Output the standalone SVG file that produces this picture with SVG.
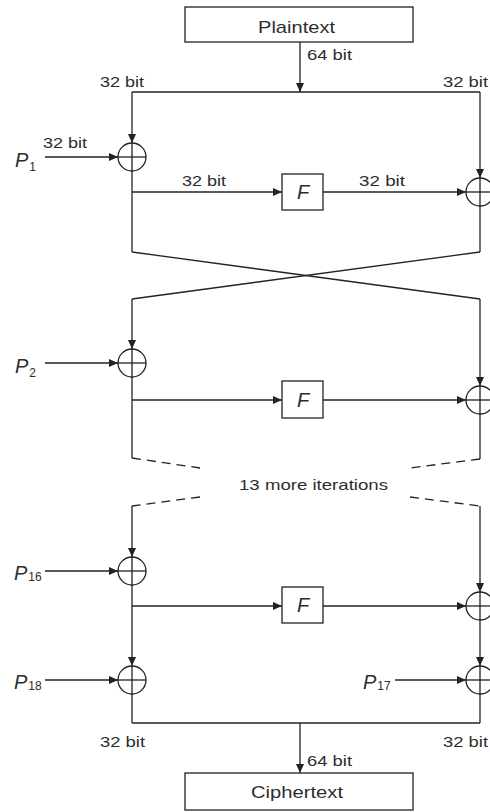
<svg xmlns="http://www.w3.org/2000/svg" width="490" height="812" viewBox="0 0 490 812">
<style>
.ln{stroke:#222;stroke-width:1.3;fill:none}
.dash{stroke:#222;stroke-width:1.3;fill:none;stroke-dasharray:9 6}
.box{fill:#fff;stroke:#222;stroke-width:1.3}
.xor{fill:none;stroke:#222;stroke-width:1.3}
.t{font-family:"Liberation Sans",Arial,sans-serif;fill:#2d2d2d}
.lbl{font-size:15px}
.big{font-size:17px}
.pl{font-size:20px;font-style:italic}
.sub{font-size:12px;font-style:normal}
.f{font-size:20px;font-style:italic;text-anchor:middle}
</style>
<defs>
<marker id="ah" markerUnits="userSpaceOnUse" markerWidth="9" markerHeight="8" refX="9" refY="4" orient="auto">
<path d="M0,0 L9,4 L0,8 z" fill="#222"/>
</marker>
<g id="xorsym">
<circle class="xor" cx="0" cy="0" r="14"/>
<line class="ln" x1="-14" y1="0" x2="14" y2="0"/>
<line class="ln" x1="0" y1="-14" x2="0" y2="14"/>
</g>
</defs>

<g id="connectors">
<line class="ln" x1="300" y1="42" x2="300" y2="92" marker-end="url(#ah)"/>
<line class="ln" x1="132" y1="92" x2="480" y2="92"/>
<line class="ln" x1="132" y1="92" x2="132" y2="143" marker-end="url(#ah)"/>
<line class="ln" x1="480" y1="92" x2="480" y2="178" marker-end="url(#ah)"/>
<line class="ln" x1="45" y1="157" x2="118" y2="157" marker-end="url(#ah)"/>
<line class="ln" x1="132" y1="171" x2="132" y2="252"/>
<line class="ln" x1="132" y1="192" x2="282" y2="192" marker-end="url(#ah)"/>
<line class="ln" x1="323" y1="192" x2="466" y2="192" marker-end="url(#ah)"/>
<line class="ln" x1="480" y1="206" x2="480" y2="252"/>
<line class="ln" x1="132" y1="252" x2="480" y2="299"/>
<line class="ln" x1="480" y1="252" x2="132" y2="299"/>
<line class="ln" x1="132" y1="299" x2="132" y2="349" marker-end="url(#ah)"/>
<line class="ln" x1="480" y1="299" x2="480" y2="386" marker-end="url(#ah)"/>
<line class="ln" x1="45" y1="363" x2="118" y2="363" marker-end="url(#ah)"/>
<line class="ln" x1="132" y1="377" x2="132" y2="458"/>
<line class="ln" x1="132" y1="400" x2="282" y2="400" marker-end="url(#ah)"/>
<line class="ln" x1="323" y1="400" x2="466" y2="400" marker-end="url(#ah)"/>
<line class="ln" x1="480" y1="414" x2="480" y2="459"/>
<line class="dash" x1="132" y1="458" x2="200" y2="468"/>
<line class="dash" x1="480" y1="459" x2="410" y2="468"/>
<line class="dash" x1="200" y1="497" x2="132" y2="506"/>
<line class="dash" x1="410" y1="497" x2="480" y2="506"/>
<line class="ln" x1="132" y1="506" x2="132" y2="557" marker-end="url(#ah)"/>
<line class="ln" x1="480" y1="506" x2="480" y2="592" marker-end="url(#ah)"/>
<line class="ln" x1="45" y1="571" x2="118" y2="571" marker-end="url(#ah)"/>
<line class="ln" x1="132" y1="585" x2="132" y2="666" marker-end="url(#ah)"/>
<line class="ln" x1="132" y1="606" x2="282" y2="606" marker-end="url(#ah)"/>
<line class="ln" x1="323" y1="606" x2="466" y2="606" marker-end="url(#ah)"/>
<line class="ln" x1="480" y1="620" x2="480" y2="666" marker-end="url(#ah)"/>
<line class="ln" x1="45" y1="680" x2="118" y2="680" marker-end="url(#ah)"/>
<line class="ln" x1="395" y1="680" x2="466" y2="680" marker-end="url(#ah)"/>
<line class="ln" x1="132" y1="694" x2="132" y2="723"/>
<line class="ln" x1="480" y1="694" x2="480" y2="723"/>
<line class="ln" x1="132" y1="723" x2="480" y2="723"/>
<line class="ln" x1="300" y1="723" x2="300" y2="773" marker-end="url(#ah)"/>
</g>

<g id="plaintext">
<rect class="box" x="185" y="7" width="228" height="35"/>
<text class="t big" x="258" y="33" textLength="77" lengthAdjust="spacingAndGlyphs">Plaintext</text>
</g>
<g id="ciphertext">
<rect class="box" x="185" y="773" width="228" height="37"/>
<text class="t big" x="251" y="798" textLength="92" lengthAdjust="spacingAndGlyphs">Ciphertext</text>
</g>

<g id="labels">
<text class="t lbl" x="307" y="60" textLength="45" lengthAdjust="spacingAndGlyphs">64 bit</text>
<text class="t lbl" x="100" y="87" textLength="44" lengthAdjust="spacingAndGlyphs">32 bit</text>
<text class="t lbl" x="443" y="87" textLength="45" lengthAdjust="spacingAndGlyphs">32 bit</text>
<text class="t lbl" x="43" y="148" textLength="44" lengthAdjust="spacingAndGlyphs">32 bit</text>
<text class="t lbl" x="182" y="186" textLength="44" lengthAdjust="spacingAndGlyphs">32 bit</text>
<text class="t lbl" x="359" y="186" textLength="46" lengthAdjust="spacingAndGlyphs">32 bit</text>
<text class="t lbl" x="239" y="490" textLength="149" lengthAdjust="spacingAndGlyphs">13 more iterations</text>
<text class="t lbl" x="100" y="747" textLength="45" lengthAdjust="spacingAndGlyphs">32 bit</text>
<text class="t lbl" x="443" y="747" textLength="45" lengthAdjust="spacingAndGlyphs">32 bit</text>
<text class="t lbl" x="307" y="766" textLength="45" lengthAdjust="spacingAndGlyphs">64 bit</text>
</g>

<g id="p1"><text class="t pl" x="15" y="167">P<tspan class="sub" dx="1" dy="4">1</tspan></text></g>
<g id="p2"><text class="t pl" x="15" y="373">P<tspan class="sub" dx="1" dy="4">2</tspan></text></g>
<g id="p16"><text class="t pl" x="14" y="580">P<tspan class="sub" dx="1" dy="1">16</tspan></text></g>
<g id="p18"><text class="t pl" x="14" y="689">P<tspan class="sub" dx="1" dy="1">18</tspan></text></g>
<g id="p17"><text class="t pl" x="363" y="689">P<tspan class="sub" dx="1" dy="1">17</tspan></text></g>

<g id="xor1l"><use href="#xorsym" x="132" y="157"/></g>
<g id="xor1r"><use href="#xorsym" x="480" y="192"/></g>
<g id="xor2l"><use href="#xorsym" x="132" y="363"/></g>
<g id="xor2r"><use href="#xorsym" x="480" y="400"/></g>
<g id="xor16l"><use href="#xorsym" x="132" y="571"/></g>
<g id="xor16r"><use href="#xorsym" x="480" y="606"/></g>
<g id="xor18"><use href="#xorsym" x="132" y="680"/></g>
<g id="xor17"><use href="#xorsym" x="480" y="680"/></g>

<g id="f1"><rect class="box" x="282" y="174" width="41" height="36"/><text class="t f" x="303" y="199">F</text></g>
<g id="f2"><rect class="box" x="282" y="381" width="41" height="37"/><text class="t f" x="303" y="407">F</text></g>
<g id="f16"><rect class="box" x="282" y="587" width="41" height="36"/><text class="t f" x="303" y="612">F</text></g>
</svg>
